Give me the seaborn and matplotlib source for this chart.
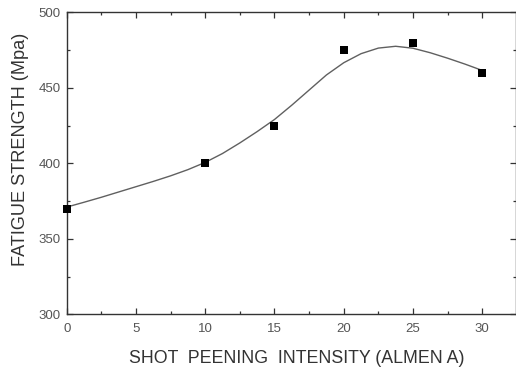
import matplotlib
matplotlib.use("Agg")
import matplotlib.pyplot as plt
import seaborn as sns
import pandas as pd
from matplotlib.ticker import MultipleLocator

# measured points
intensity = [0, 10, 15, 20, 25, 30]
strength = [370, 400, 425, 475, 480, 460]

# smooth fitted curve
curve_x = [0, 1.25, 2.5, 3.75, 5, 6.25, 7.5, 8.75, 10, 11.25, 12.5, 13.75, 15,
           16.25, 17.5, 18.75, 20, 21.25, 22.5, 23.75, 25, 26.25, 27.5, 28.75, 30]
curve_y = [371, 374.2, 377.5, 381, 384.5, 388, 391.7, 395.8, 400.6, 406.5, 413.5, 421, 429,
           438.5, 448.5, 458.5, 466.6, 472.6, 476.3, 477.5, 476.2, 473.2, 469.6, 465.7, 461.5]

x_ticks = [0, 5, 10, 15, 20, 25, 30]
y_ticks = [300, 350, 400, 450, 500]

sns.set_theme(style="ticks")
plt.rcParams['font.family'] = ['Liberation Sans', 'DejaVu Sans']

fig = plt.figure(figsize=(5.16, 3.69), dpi=100)
ax = fig.add_axes([66.7/516, 1-314.3/369, (515.5-66.7)/516, (314.3-12.3)/369])

pts = pd.DataFrame({"x": intensity, "y": strength})
crv = pd.DataFrame({"x": curve_x, "y": curve_y})

sns.lineplot(data=crv, x="x", y="y", ax=ax, color="#606060", linewidth=1.0, sort=True)
sns.scatterplot(data=pts, x="x", y="y", ax=ax, marker="s", color="black", s=30,
                edgecolor="black", linewidth=0, zorder=5, clip_on=False)

ax.set_xlim(0, 32.4)
ax.set_ylim(300, 500)
ax.set_xticks(x_ticks)
ax.set_yticks(y_ticks)
ax.xaxis.set_minor_locator(MultipleLocator(2.5))
ax.yaxis.set_minor_locator(MultipleLocator(25))
ax.tick_params(which="both", direction="in", top=True, right=True, colors="#333333",
               labelcolor="#555555", labelsize=9.5, width=0.9)
ax.tick_params(which="major", length=4)
ax.tick_params(which="minor", length=2.5)
ax.tick_params(axis="x", which="major", pad=6.5)
ax.tick_params(axis="y", which="major", pad=4.5)
for s in ax.spines.values():
    s.set_color("#333333")
    s.set_linewidth(1.0)

ax.set_xlabel("SHOT  PEENING  INTENSITY (ALMEN A)", fontsize=12.8, color="#333333")
ax.set_ylabel("FATIGUE STRENGTH (Mpa)", fontsize=13.1, color="#333333")
ax.xaxis.label.set_va("center")
ax.yaxis.label.set_va("center")
ax.xaxis.set_label_coords(0.512, -0.146)
ax.yaxis.set_label_coords(-0.104, 0.546)

fig.savefig("out.png", dpi=100)
